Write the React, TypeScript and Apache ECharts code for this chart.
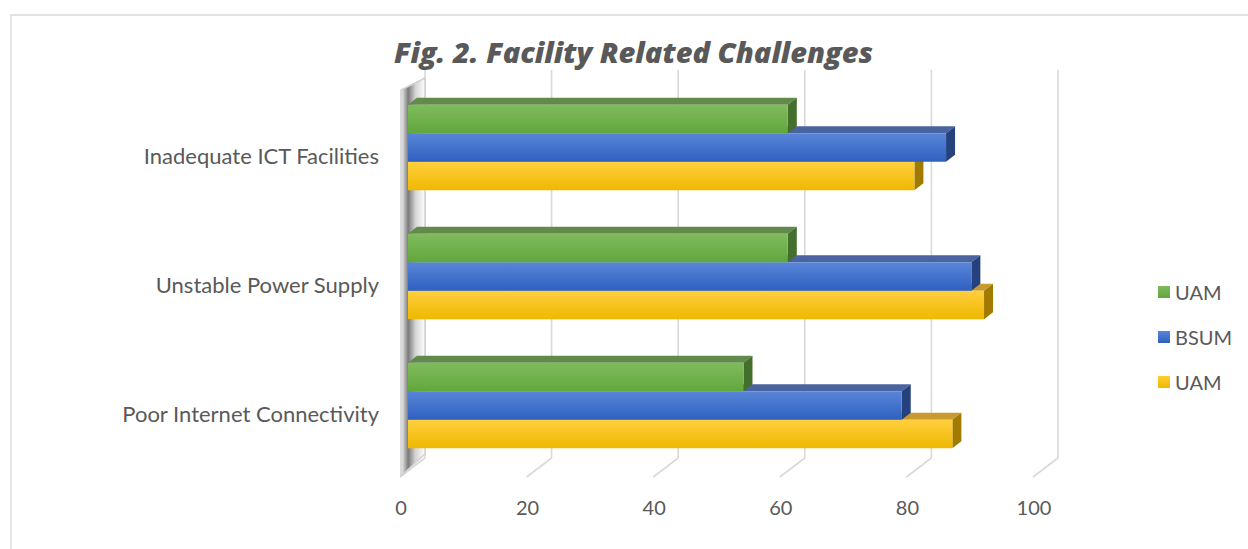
import React, { useEffect, useRef } from 'react';
import * as echarts from 'echarts';

const titleText = 'Fig. 2. Facility Related Challenges';
const categories = ['Poor Internet Connectivity', 'Unstable Power Supply', 'Inadequate ICT Facilities'];
const uamGreen = [53, 60, 60];
const bsumBlue = [78, 89, 85];
const uamYellow = [86, 91, 80];
const xTicks = [0, 20, 40, 60, 80, 100];
const seriesKeys = ['uamGreen', 'bsum', 'uamYellow'];
const legendLabels: Record<string, string> = { uamGreen: 'UAM', bsum: 'BSUM', uamYellow: 'UAM' };

const DX = 9;
const DY = -7;
const FONT = 'Lato';
const TXT = '#595959';

function grad(a: string, b: string) {
  return new echarts.graphic.LinearGradient(0, 0, 0, 1, [
    { offset: 0, color: a },
    { offset: 1, color: b },
  ]);
}

function barRenderer(slot: number, front: [string, string], top: string, side: string) {
  return (params: any, api: any) => {
    const v = api.value(0);
    const c = api.value(1);
    const end = api.coord([v, c]);
    const base = api.coord([0, c]);
    const band = api.size([0, 1])[1];
    const h = band * 0.221;
    const yTop = end[1] - 1.5 * h + slot * h;
    const yBot = yTop + h;
    const x0 = base[0];
    const x1 = end[0];
    return {
      type: 'group',
      children: [
        { type: 'polygon', shape: { points: [[x0, yTop], [x1, yTop], [x1 + DX, yTop + DY], [x0 + DX, yTop + DY]] }, style: { fill: top } },
        { type: 'polygon', shape: { points: [[x1, yTop], [x1 + DX, yTop + DY], [x1 + DX, yBot + DY], [x1, yBot]] }, style: { fill: side } },
        { type: 'rect', shape: { x: x0, y: yTop, width: x1 - x0, height: h }, style: { fill: grad(front[0], front[1]) } },
      ],
    };
  };
}

function gridRenderer(params: any, api: any) {
  const v = api.value(0);
  const p = api.coord([v, 0]);
  const cs = params.coordSys;
  const xb = p[0] + 17;
  const yTop = cs.y - 13;
  const yBack = cs.y + cs.height - 12;
  const xf = p[0] - 8;
  const yF = yBack + 19;
  const line = { stroke: '#d9d9d9', lineWidth: 1.6 };
  const children: any[] = [
    { type: 'line', shape: { x1: xb, y1: yTop, x2: xb, y2: yBack }, style: line },
    { type: 'line', shape: { x1: xb, y1: yBack, x2: xf, y2: yF }, style: line },
  ];
  if (v === 0) {
    children.push({
      type: 'polygon',
      shape: { points: [[xf + 1, yF - 1], [xb, yBack - 4], [xb, yTop + 8], [xf + 1, yTop + 20]] },
      style: {
        fill: new echarts.graphic.LinearGradient(0, 0, 1, 0, [
          { offset: 0, color: '#f4f4f4' },
          { offset: 0.3, color: '#7a7a7a' },
          { offset: 0.6, color: '#d4d4d4' },
          { offset: 1, color: '#ffffff' },
        ]),
        stroke: '#d0d0d0',
        lineWidth: 1.5,
      },
    });
  }
  return { type: 'group', children };
}

export default function App() {
  const ref = useRef<HTMLDivElement>(null);
  useEffect(() => {
    if (!ref.current) return;
    const chart = echarts.init(ref.current, null, { renderer: 'svg' });
    const mk = (arr: number[]) => arr.map((v, i) => [v, i]);
    const defs = [
      { key: 'uamYellow', data: uamYellow, slot: 2, front: ['#ffcf3f', '#efb800'] as [string, string], top: '#c99b2e', side: '#a07b00', legend: ['#ffcd33', '#f0b800'] },
      { key: 'bsum', data: bsumBlue, slot: 1, front: ['#5a86d8', '#2e60c0'] as [string, string], top: '#4a64a0', side: '#25427e', legend: ['#5a86d8', '#2e60c0'] },
      { key: 'uamGreen', data: uamGreen, slot: 0, front: ['#80bb5e', '#62a63c'] as [string, string], top: '#618a4b', side: '#436e2b', legend: ['#80bb5e', '#62a63c'] },
    ];
    chart.setOption({
      animation: false,
      backgroundColor: '#ffffff',
      title: {
        text: titleText,
        left: 394,
        top: 37,
        padding: 0,
        textStyle: { fontFamily: 'Open Sans', fontWeight: 800, fontStyle: 'italic', fontSize: 29, color: TXT },
      },
      graphic: [
        { type: 'rect', shape: { x: 11, y: 15, width: 1400, height: 700 }, style: { fill: 'none', stroke: '#d9d9d9', lineWidth: 1.3 }, silent: true, z: -10 },
      ],
      legend: {
        orient: 'vertical',
        left: 1153,
        top: 277,
        itemWidth: 12,
        itemHeight: 12,
        itemGap: 25,
        itemTextGap: 5,
        icon: 'rect',
        data: seriesKeys,
        formatter: (n: string) => legendLabels[n],
        textStyle: { fontFamily: FONT, fontSize: 20, color: TXT },
      },
      grid: { left: 408, right: 207, top: 83, bottom: 79, containLabel: false },
      xAxis: {
        type: 'value',
        min: 0,
        max: 100,
        interval: 20,
        axisLine: { show: false },
        axisTick: { show: false },
        splitLine: { show: false },
        axisLabel: { margin: 27, padding: [0, 14, 0, 0], fontFamily: FONT, fontSize: 20, color: TXT },
      },
      yAxis: {
        type: 'category',
        data: categories,
        axisLine: { show: false },
        axisTick: { show: false },
        splitLine: { show: false },
        axisLabel: { margin: 29, verticalAlign: 'top', lineHeight: 15, fontFamily: FONT, fontSize: 22, color: TXT },
      },
      series: [
        {
          type: 'custom',
          name: 'grid',
          data: xTicks.map((t) => [t, 0]),
          renderItem: gridRenderer,
          silent: true,
          z: 1,
          clip: false,
        },
        ...defs.map((d) => ({
          type: 'custom',
          name: d.key,
          data: mk(d.data),
          renderItem: barRenderer(d.slot, d.front, d.top, d.side),
          itemStyle: { color: grad(d.legend[0], d.legend[1]) },
          z: 2,
          clip: false,
        })),
      ],
    });
    return () => chart.dispose();
  }, []);
  return <div ref={ref} style={{ position: 'fixed', left: 0, top: 0, width: 1248, height: 549 }} />;
}
